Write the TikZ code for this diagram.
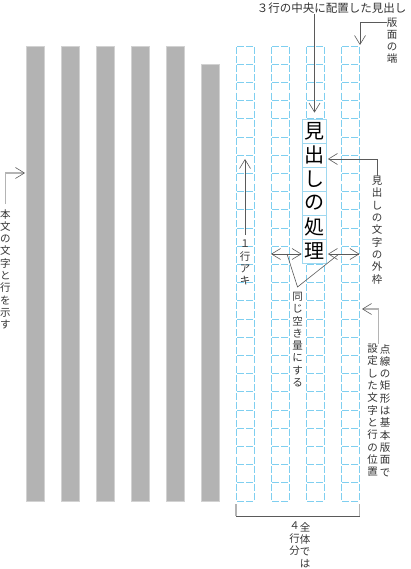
\documentclass[tikz,border=0pt]{standalone}
\usepackage{fontspec}
\setmainfont{Noto Sans CJK JP}
\usetikzlibrary{arrows.meta,calc}
\definecolor{barfill}{HTML}{B3B3B3}
\definecolor{barline}{HTML}{D2D2D2}
\definecolor{gridc}{HTML}{7FCFF0}
\definecolor{headc}{HTML}{9ED8F0}
\definecolor{connc}{HTML}{5A5A5A}
\definecolor{lightc}{HTML}{B4B4B4}
\definecolor{txtc}{HTML}{333333}
\tikzset{
  darktip/.tip={Straight Barb[length=9pt,width=11pt,color=connc,line width=0.6pt]},
  bar/.style={fill=barfill, draw=barline, line width=0.6pt, minimum width=18pt, inner sep=0pt, outer sep=0pt, anchor=north west},
  cellline/.style={gridc, line width=0.9pt, dash pattern=on 7pt off 2.1pt, dash phase=8.05pt},
  headbox/.style={draw=headc, fill=white, line width=0.8pt, minimum size=24pt, inner sep=0pt, text=black, font=\fontsize{20}{20}\selectfont},
  vtext/.style={align=center, inner sep=0pt, anchor=north, text=txtc, font=\fontsize{10.5}{12.3}\selectfont},
  htext/.style={inner sep=0pt, text=txtc, font=\fontsize{11.5}{12}\selectfont},
  conn/.style={connc, line width=0.6pt},
  lightconn/.style={lightc, line width=1.3pt}
}
\begin{document}
\begin{tikzpicture}[x=1pt,y=-1pt,>={Straight Barb[length=9pt,width=11pt]}]
\useasboundingbox (0,0) rectangle (410,569);

% body text bars
\foreach \i in {1,...,5}
  \node[bar, minimum height=455pt] (bar\i) at (26.5+35*\i-35,46) {};
\node[bar, minimum height=437pt] (bar6) at (201.5,64) {};

% dashed character grid
\foreach \k in {0,...,3}{
  \foreach \j in {0,...,24}{
    \draw[cellline] (236+35*\k,46+18.2*\j) -- ++(18,0);
    \draw[cellline] (236+35*\k,46+18.2*\j) -- ++(0,18.2);
    \draw[cellline] (254+35*\k,46+18.2*\j) -- ++(0,18.2);
  }
  \draw[cellline] (236+35*\k,501) -- ++(18,0);
}

% heading
\foreach \c [count=\n] in {見,出,し,の,処,理}
  \node[headbox] (h\n) at (314.5,107+24*\n) {\c};

% texts
\node[htext] (top) at (331.5,8) {３行の中央に配置した見出し};
\node[vtext] (ban) at (392,17) {版\\面\\の\\端};
\node[vtext] (gaiwaku) at (377,176) {見\\出\\し\\の\\文\\字\\の\\外\\枠};
\node[vtext] (gyoaki) at (245,240) {１\\行\\ア\\キ};
\node[vtext] (onaji) at (297.5,292) {同\\じ\\空\\き\\量\\に\\す\\る};
\node[vtext] (tensen1) at (385,344) {点\\線\\の\\矩\\形\\は\\基\\本\\版\\面\\で};
\node[vtext] (tensen2) at (372.5,344) {設\\定\\し\\た\\文\\字\\と\\行\\の\\位\\置};
\node[vtext] (honbun) at (5.5,209) {本\\文\\の\\文\\字\\と\\行\\を\\示\\す};
\node[vtext] (zentai) at (305,522) {全\\体\\で\\は};
\node[vtext] (yongyo) at (294.5,522) {４\\行\\分};

% coordinates for free ends
\coordinate (hanmen) at (360,45);
\coordinate (akitip) at (245,159);
\coordinate (sL) at (271,254);
\coordinate (sR) at (359.5,254);
\coordinate (vL) at (287,254);
\coordinate (vR) at (339,254);
\coordinate (tentip) at (362,309);
\coordinate (bartip) at (25,173);
\coordinate (bL) at (236,504);
\coordinate (bR) at (359.5,504);
\coordinate (banj) at ([yshift=-5pt]ban.north west);

% connectors
\draw[conn,->] (top.south -| h1.north) -- ([yshift=6pt]h1.north);
\draw[conn,->] (banj) -| (hanmen);
\draw[conn,->] (gaiwaku.north) |- ([shift={(1pt,-4pt)}]h2.east);
\draw[conn,->] ([yshift=5pt]gyoaki.north) -- (akitip);
\draw[conn,<->] (sL) -- ([shift={(-0.5pt,-3pt)}]h6.west);
\draw[conn,<->] ([shift={(1pt,-3pt)}]h6.east) -- (sR);
\draw[conn] (vL) -- ([yshift=5pt]onaji.north) -- (vR);
\draw[lightconn,-darktip] ($(tensen1.north)!0.5!(tensen2.north)$) |- (tentip);
\draw[lightconn,-darktip] ([yshift=5pt]honbun.north) |- (bartip);

% bracket
\draw[lightconn] (bL) -- ++(0,12);
\draw[lightconn] (bR) -- ++(0,12);
\draw[conn] ([yshift=-12pt]bL) -- ([yshift=-12pt]bR);
\end{tikzpicture}
\end{document}
